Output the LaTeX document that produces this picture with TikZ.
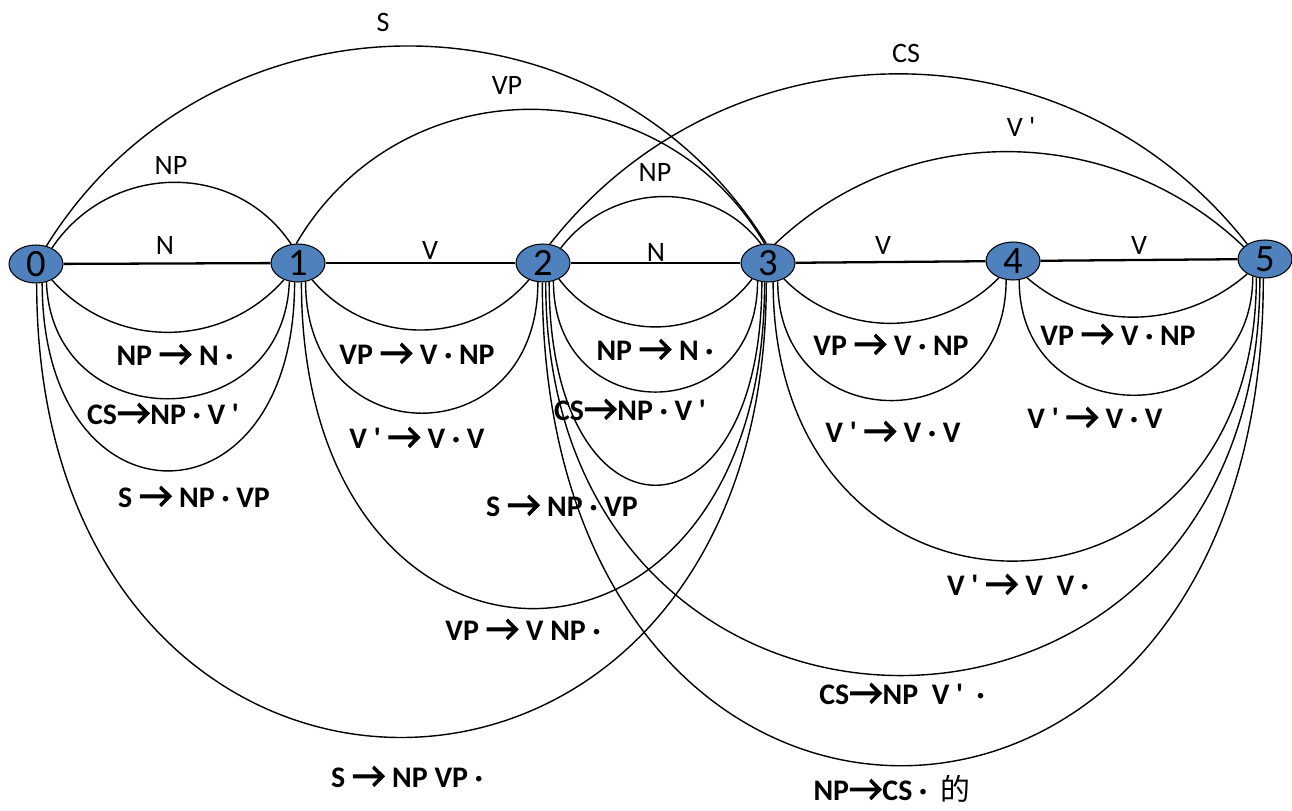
\documentclass[tikz,border=0pt]{standalone}
\usepackage{fontspec}
\usetikzlibrary{shapes.geometric}
\newfontfamily\labfont{Carlito}
\newfontfamily\arrfont{Carlito}[FakeBold=3]
\newfontfamily\cjkfont{Noto Sans CJK SC}
\definecolor{nodeblue}{HTML}{4F81BD}
\newcommand{\ra}{{\arrfont\mdseries\fontsize{21}{16}\selectfont →}}
\tikzset{
  every picture/.style={line width=0.8pt},
  state/.style={ellipse, draw=black, line width=0.6pt, fill=nodeblue, minimum width=1.08cm,
    minimum height=0.76cm, inner sep=0pt, font=\labfont\fontsize{22}{22}\selectfont},
  chain/.style={line width=1.3pt},
  arcline/.style={line width=0.8pt},
  cat/.style={font=\labfont\fontsize{16}{16}\selectfont, inner sep=0pt},
  rule/.style={font=\labfont\bfseries\fontsize{17}{17}\selectfont, inner sep=0pt},
}

\begin{document}
\begin{tikzpicture}[x=0.02cm, y=-0.02cm]
  \useasboundingbox (0,0) rectangle (1292,811);
  % chart vertices
  \foreach \i/\x/\y in {0/36/264, 1/298/263, 2/543/263, 3/768/263, 4/1013/261, 5/1265/259}
    \node[state] (n\i) at (\x,\y) {\i};
  % word edges
  \foreach \a/\b in {0/1, 1/2, 2/3, 3/4, 4/5} \draw[chain] (n\a) -- (n\b);
  % complete edges above, dotted rules below (from/to/control dx/control dy)
  \foreach \a/\b/\dx/\k in {n0.60/n3.95/165/-265, n0.45/n1.110/57/-85, n1.95/n3.100/105/-179,
      n2.40/n3.110/50/-66, n2.70/n5.140/178/-227, n3.70/n5.150/131/-125,
      n0.-45/n1.-130/62/70, n0.-60/n1.-115/6/156, n0.-72/n1.-100/0/251,
      n1.-50/n2.-130/57/67, n1.-68/n2.-105/0/175,
      n2.-45/n3.-135/48/64, n2.-60/n3.-120/0/148, n2.-72/n3.-108/0/271,
      n3.-45/n4.-130/59/60, n3.-62/n4.-110/0/160,
      n4.-50/n5.-140/63/55, n4.-72/n5.-125/0/156,
      n1.-80/n3.-100/0/435, n0.-88/n3.-95/0/606, n3.-75/n5.-115/0/375,
      n2.-82/n5.-105/0/527, n2.-92/n5.-95/0/647}
    \draw[arcline] (\a) .. controls +(\dx,\k) and +(-\dx,\k) .. (\b);
  % categories
  \foreach \x/\y/\t [count=\i] in {165/245/N, 430/250/V, 656/252/N, 883/245/V, 1139/245/V,
      171/165/NP, 655/172/NP, 507/85/VP, 383/22/S, 906/53/CS, 1021/127/V '}
    \node[cat] (c\i) at (\x,\y) {\t};
  % dotted rules
  \foreach \x/\y/\t [count=\i] in {175/355/NP \ra{} N ·, 163/414/CS\ra{}NP · V ',
      194/497/S \ra{} NP · VP, 417/354/VP \ra{} V · NP, 417/438/V ' \ra{} V · V,
      655/350/NP \ra{} N ·, 630/410/CS\ra{}NP · V ', 562/506/S \ra{} NP · VP,
      891/345/VP \ra{} V · NP, 893/432/V ' \ra{} V · V, 1118/335/VP \ra{} V · NP,
      1095/418/V ' \ra{} V · V, 1018/585/V ' \ra{} V \ V ·, 523/630/VP \ra{} V NP ·,
      902/694/CS\ra{}NP \ V ' \ ·, 407/777/S \ra{} NP VP ·}
    \node[rule] (r\i) at (\x,\y) {\t};
  \node[rule] (r17) at (892,789) {NP\ra{}CS · \ {\cjkfont\mdseries 的}};
\end{tikzpicture}
\end{document}
